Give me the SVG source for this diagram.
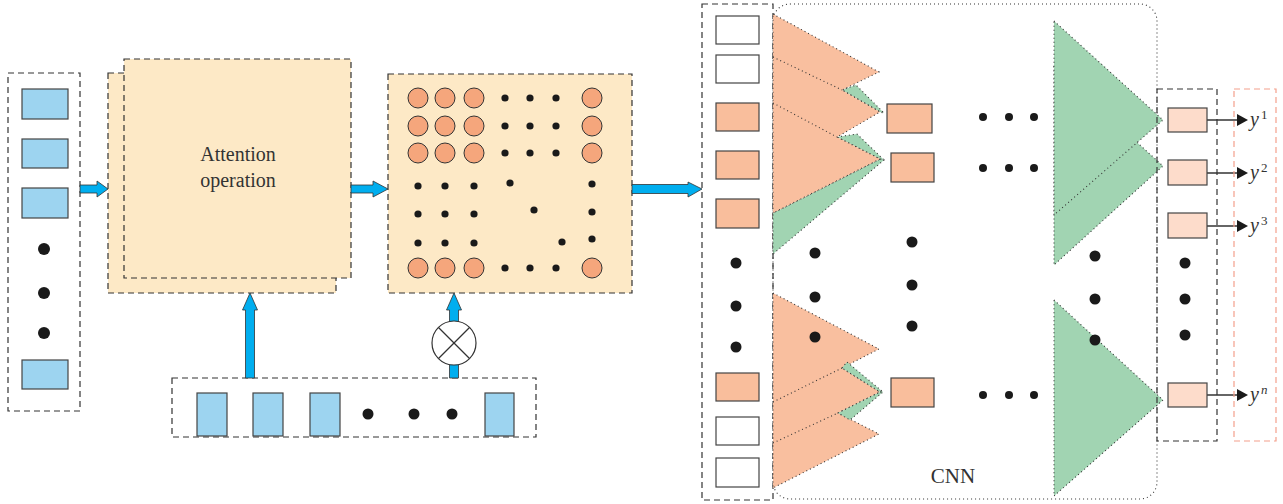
<svg xmlns="http://www.w3.org/2000/svg" width="1283" height="504" viewBox="0 0 1283 504">
<defs>
<style>
.dash{fill:none;stroke:#333;stroke-width:1.2;stroke-dasharray:6 4}
.dot{fill:none;stroke:#333;stroke-width:1.1;stroke-dasharray:1 3}
.cream{fill:#FDE9C6;stroke:#333;stroke-width:1.2;stroke-dasharray:6 4}
.blue{fill:#9DD4F0;stroke:#444;stroke-width:1.2}
.wbox{fill:#fff;stroke:#444;stroke-width:1.2}
.obox{fill:#F9BE9C;stroke:#444;stroke-width:1.2}
.pbox{fill:#FDDCCB;stroke:#444;stroke-width:1.2}
.circ{fill:#F5A67C;stroke:#333;stroke-width:1}
.bd{fill:#1a1a1a}
.arr{fill:#00AEEF;stroke:#333;stroke-width:0.8}
.or{fill:#F9BF9F}
.gr{fill:#A1D4B2}
.ordot{fill:#F9BF9F;stroke:#333;stroke-width:1.1;stroke-dasharray:1 3}
.grdot{fill:#A1D4B2;stroke:#333;stroke-width:1.1;stroke-dasharray:1 3}
.txt{font-family:"Liberation Serif",serif;fill:#333}
.yl{font-family:"Liberation Serif",serif;font-style:italic;font-size:20px;fill:#333}
.sup{font-family:"Liberation Serif",serif;font-size:13px;fill:#333}
.ln{stroke:#333;stroke-width:1.5}
</style>
</defs>

<g id="input-column">
<rect class="dash" x="8" y="73" width="72" height="338"/>
<rect class="blue" x="22" y="89" width="46" height="30"/>
<rect class="blue" x="22" y="139" width="46" height="29"/>
<rect class="blue" x="22" y="188" width="46" height="30"/>
<circle class="bd" cx="44" cy="249" r="6"/>
<circle class="bd" cx="44" cy="293" r="6"/>
<circle class="bd" cx="44" cy="333" r="6"/>
<rect class="blue" x="22" y="360" width="46" height="29"/>
</g>

<g id="attention-operation">
<rect class="cream" x="108" y="73" width="228" height="220"/>
<rect class="cream" x="124" y="59" width="227" height="219"/>
<text class="txt" x="238" y="161" font-size="20" text-anchor="middle">Attention</text>
<text class="txt" x="238" y="187" font-size="20" text-anchor="middle">operation</text>
</g>

<g id="attention-matrix">
<rect class="cream" x="388" y="74" width="244" height="219"/>
<g>
<circle class="circ" cx="418" cy="98" r="10"/><circle class="circ" cx="445" cy="98" r="10"/><circle class="circ" cx="474" cy="98" r="10"/><circle class="circ" cx="592" cy="98" r="10"/>
<circle class="circ" cx="418" cy="126" r="10"/><circle class="circ" cx="445" cy="126" r="10"/><circle class="circ" cx="474" cy="126" r="10"/><circle class="circ" cx="592" cy="126" r="10"/>
<circle class="circ" cx="418" cy="153" r="10"/><circle class="circ" cx="445" cy="153" r="10"/><circle class="circ" cx="474" cy="153" r="10"/><circle class="circ" cx="592" cy="153" r="10"/>
<circle class="circ" cx="418" cy="268" r="10"/><circle class="circ" cx="445" cy="268" r="10"/><circle class="circ" cx="474" cy="268" r="10"/><circle class="circ" cx="592" cy="268" r="10"/>
</g>
<g class="bd">
<circle cx="505" cy="98" r="3.6"/><circle cx="530" cy="98" r="3.6"/><circle cx="556" cy="98" r="3.6"/>
<circle cx="505" cy="126" r="3.6"/><circle cx="530" cy="126" r="3.6"/><circle cx="556" cy="126" r="3.6"/>
<circle cx="505" cy="153" r="3.6"/><circle cx="530" cy="153" r="3.6"/><circle cx="556" cy="153" r="3.6"/>
<circle cx="505" cy="268" r="3.6"/><circle cx="530" cy="268" r="3.6"/><circle cx="556" cy="268" r="3.6"/>
<circle cx="418" cy="186" r="3.6"/><circle cx="445" cy="186" r="3.6"/><circle cx="474" cy="186" r="3.6"/>
<circle cx="418" cy="214" r="3.6"/><circle cx="445" cy="214" r="3.6"/><circle cx="474" cy="214" r="3.6"/>
<circle cx="418" cy="243" r="3.6"/><circle cx="445" cy="243" r="3.6"/><circle cx="474" cy="243" r="3.6"/>
<circle cx="510" cy="183" r="3.6"/><circle cx="534" cy="210" r="3.6"/><circle cx="562" cy="242" r="3.6"/>
<circle cx="592" cy="184" r="3.6"/><circle cx="592" cy="212" r="3.6"/><circle cx="592" cy="239" r="3.6"/>
</g>
</g>

<g id="query-vector">
<rect class="dash" x="172" y="378" width="364" height="59"/>
<rect class="blue" x="197" y="393" width="30" height="43"/>
<rect class="blue" x="253" y="393" width="30" height="43"/>
<rect class="blue" x="310" y="393" width="30" height="43"/>
<circle class="bd" cx="368" cy="414" r="5.5"/>
<circle class="bd" cx="414" cy="414" r="5.5"/>
<circle class="bd" cx="452" cy="414" r="5.5"/>
<rect class="blue" x="485" y="393" width="29" height="43"/>
</g>

<g id="connectors">
<path class="arr" d="M80,185 H97 V181 L108,189 L97,197 V193 H80 Z"/>
<path class="arr" d="M351,185 H373 V181 L388,189 L373,197 V193 H351 Z"/>
<path class="arr" d="M632,184.5 H688 V182 L702,189 L688,197 V193.5 H632 Z"/>
<path class="arr" d="M245.5,378 V310 H242.5 L250,293 L257.5,310 H254.5 V378 Z"/>
<path class="arr" d="M449.5,378 V310 H446.5 L454,293 L461.5,310 H458.5 V378 Z"/>
<g id="multiply">
<circle cx="454" cy="343" r="22" fill="#fff" stroke="#333" stroke-width="1.2"/>
<line x1="438.5" y1="327.5" x2="469.5" y2="358.5" stroke="#333" stroke-width="1.2"/>
<line x1="469.5" y1="327.5" x2="438.5" y2="358.5" stroke="#333" stroke-width="1.2"/>
</g>
<g>
<line class="ln" x1="1207" y1="120" x2="1238" y2="120"/><polygon fill="#1a1a1a" points="1237,114 1248,120 1237,126"/>
<line class="ln" x1="1207" y1="173" x2="1238" y2="173"/><polygon fill="#1a1a1a" points="1237,167 1248,173 1237,179"/>
<line class="ln" x1="1207" y1="226" x2="1238" y2="226"/><polygon fill="#1a1a1a" points="1237,220 1248,226 1237,232"/>
<line class="ln" x1="1207" y1="395" x2="1238" y2="395"/><polygon fill="#1a1a1a" points="1237,389 1248,395 1237,401"/>
</g>
</g>

<g id="embedding-column">
<rect class="dash" x="702" y="4" width="71" height="496"/>
<rect class="wbox" x="716" y="16" width="43" height="28"/>
<rect class="wbox" x="716" y="55" width="43" height="28"/>
<rect class="obox" x="716" y="103" width="43" height="28"/>
<rect class="obox" x="716" y="151" width="43" height="28"/>
<rect class="obox" x="716" y="199" width="43" height="29"/>
<circle class="bd" cx="736" cy="263" r="5.5"/>
<circle class="bd" cx="736" cy="306" r="5.5"/>
<circle class="bd" cx="736" cy="347" r="5.5"/>
<rect class="obox" x="716" y="373" width="43" height="28"/>
<rect class="wbox" x="716" y="417" width="43" height="28"/>
<rect class="wbox" x="716" y="458" width="43" height="29"/>
</g>

<g id="cnn">
<rect class="dot" x="773" y="4" width="384" height="495" rx="17"/>
<g id="conv-top">
<polygon class="grdot" points="842,90 856,85 884,113 880,112"/>
<polygon class="grdot" points="837,137 857,134 884,160 880,159"/>
<polygon class="grdot" points="880,159 884,160 773,254 773,213"/>
<polygon class="ordot" points="773,14 879,72 842,90 880,112 837,137 880,159 773,213"/>
<line class="dot" x1="773" y1="57" x2="842" y2="90"/>
<line class="dot" x1="773" y1="103" x2="837" y2="137"/>
</g>
<g id="conv-bottom">
<polygon class="ordot" points="773,293 879,349 842,368 880,392 838,413 879,434 773,488"/>
<polygon class="grdot" points="842,368 847,362 883,392 880,392"/>
<polygon class="grdot" points="880,392 883,392 850,420 838,413"/>
<line class="dot" x1="773" y1="402" x2="842" y2="368"/>
<line class="dot" x1="773" y1="443" x2="838" y2="413"/>
</g>
<rect class="obox" x="887" y="104" width="45" height="29"/>
<rect class="obox" x="891" y="153" width="43" height="29"/>
<rect class="obox" x="891" y="378" width="43" height="29"/>
<g class="bd">
<circle cx="815" cy="253" r="5.5"/><circle cx="815" cy="297" r="5.5"/><circle cx="815" cy="337" r="5.5"/>
<circle cx="912" cy="242" r="5.5"/><circle cx="912" cy="285" r="5.5"/><circle cx="912" cy="326" r="5.5"/>
<circle cx="983" cy="117" r="4"/><circle cx="1009" cy="117" r="4"/><circle cx="1034" cy="117" r="4"/>
<circle cx="983" cy="168" r="4"/><circle cx="1009" cy="168" r="4"/><circle cx="1034" cy="168" r="4"/>
<circle cx="983" cy="395" r="4"/><circle cx="1009" cy="395" r="4"/><circle cx="1034" cy="395" r="4"/>
</g>
<g id="fc">
<polygon class="grdot" points="1054,67 1163,166 1054,265"/>
<polygon class="grdot" points="1054,21 1163,120 1054,215"/>
<polygon class="grdot" points="1054,300 1163,400 1054,496"/>
</g>
<g class="bd">
<circle cx="1095" cy="256" r="5.5"/><circle cx="1095" cy="299" r="5.5"/><circle cx="1095" cy="340" r="5.5"/>
</g>
<text class="txt" x="953" y="483" font-size="21" text-anchor="middle">CNN</text>
</g>

<g id="output-column">
<rect class="dash" x="1157" y="89" width="60" height="352"/>
<rect class="pbox" x="1168" y="108" width="39" height="24"/>
<rect class="pbox" x="1168" y="160" width="39" height="25"/>
<rect class="pbox" x="1168" y="213" width="39" height="25"/>
<circle class="bd" cx="1185" cy="263" r="5.5"/>
<circle class="bd" cx="1185" cy="299" r="5.5"/>
<circle class="bd" cx="1185" cy="335" r="5.5"/>
<rect class="pbox" x="1168" y="383" width="39" height="24"/>
</g>

<g id="labels">
<rect x="1234" y="89" width="42" height="352" fill="none" stroke="#F4A08C" stroke-width="1.2" stroke-dasharray="6 4"/>
<text class="yl" x="1250" y="126">y</text><text class="sup" x="1261" y="119">1</text>
<text class="yl" x="1250" y="179">y</text><text class="sup" x="1261" y="172">2</text>
<text class="yl" x="1250" y="232">y</text><text class="sup" x="1261" y="225">3</text>
<text class="yl" x="1250" y="401">y</text><text class="sup" x="1261" y="394" font-style="italic">n</text>
</g>
</svg>
